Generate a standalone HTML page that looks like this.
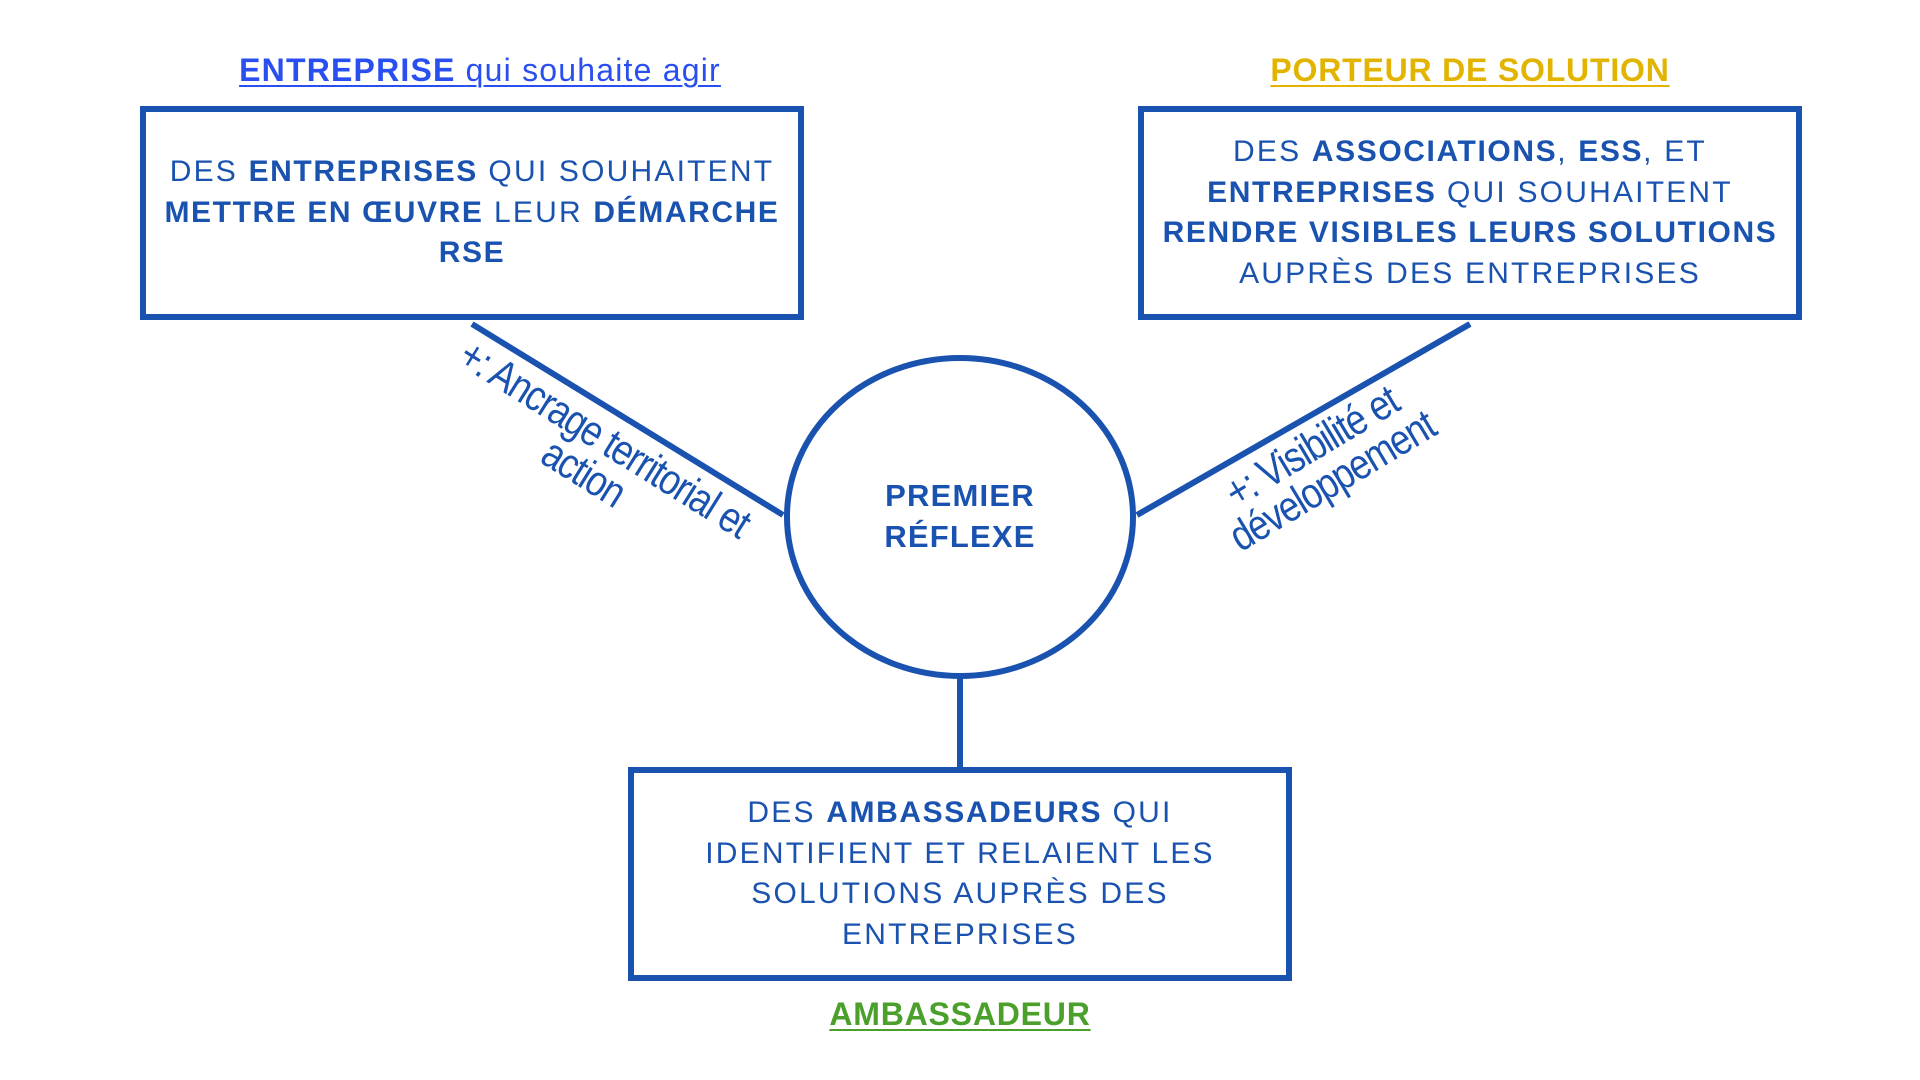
<!DOCTYPE html>
<html><head><meta charset="utf-8"><style>
html,body{margin:0;padding:0;background:#fff;}
body{width:1920px;height:1080px;position:relative;overflow:hidden;font-family:"Liberation Sans",sans-serif;}
.box{position:absolute;border:6px solid #1a52b0;box-sizing:border-box;display:flex;align-items:center;justify-content:center;text-align:center;color:#1a52b0;font-size:30px;line-height:40.5px;letter-spacing:2.2px;white-space:nowrap;}
.box b{font-weight:bold;letter-spacing:1.6px;}
.title{position:absolute;text-align:center;font-size:32px;letter-spacing:1.2px;text-decoration:underline;text-decoration-thickness:2px;text-underline-offset:4px;}
.lbl{position:absolute;left:0;top:0;color:#1a52b0;font-size:43px;line-height:40px;letter-spacing:-1.5px;text-align:center;white-space:nowrap;}
</style></head><body>
<svg width="1920" height="1080" style="position:absolute;left:0;top:0">
<line x1="472" y1="324" x2="783" y2="515" stroke="#1a52b0" stroke-width="6"/>
<line x1="1470" y1="324" x2="1137" y2="515" stroke="#1a52b0" stroke-width="6"/>
<line x1="960" y1="675" x2="960" y2="768" stroke="#1a52b0" stroke-width="6"/>
<ellipse cx="960" cy="517" rx="173" ry="159" fill="none" stroke="#1a52b0" stroke-width="6"/>
</svg>
<div class="title" style="left:180px;width:600px;top:52px;color:#2a4ff0;"><b>ENTREPRISE </b>qui souhaite agir</div>
<div class="title" style="left:1170px;width:600px;top:52px;color:#e2b400;font-weight:bold;letter-spacing:0.8px;">PORTEUR DE SOLUTION</div>
<div class="title" style="left:660px;width:600px;top:996px;color:#4aa02a;font-weight:bold;letter-spacing:0.8px;">AMBASSADEUR</div>
<div class="box" style="left:140px;top:106px;width:664px;height:214px;"><div>DES <b>ENTREPRISES</b> QUI SOUHAITENT<br><b>METTRE EN ŒUVRE</b> LEUR <b>DÉMARCHE</b><br><b>RSE</b></div></div>
<div class="box" style="left:1138px;top:106px;width:664px;height:214px;"><div>DES <b>ASSOCIATIONS</b>, <b>ESS</b>, ET<br><b>ENTREPRISES</b> QUI SOUHAITENT<br><b>RENDRE VISIBLES LEURS SOLUTIONS</b><br>AUPRÈS DES ENTREPRISES</div></div>
<div class="box" style="left:628px;top:767px;width:664px;height:214px;"><div>DES <b>AMBASSADEURS</b> QUI<br>IDENTIFIENT ET RELAIENT LES<br>SOLUTIONS AUPRÈS DES<br>ENTREPRISES</div></div>
<div style="position:absolute;left:810px;width:300px;top:475px;text-align:center;color:#1a52b0;font-weight:bold;font-size:31px;line-height:41px;letter-spacing:1.2px;">PREMIER<br>RÉFLEXE</div>
<div style="position:absolute;left:594px;top:456px;width:0;height:0;">
<div class="lbl" style="transform:translate(-50%,-50%) rotate(32deg) scaleX(0.84);">+: Ancrage territorial et<br>action</div></div>
<div style="position:absolute;left:1322px;top:464px;width:0;height:0;">
<div class="lbl" style="transform:translate(-50%,-50%) rotate(-31deg) scaleX(0.84);">+: Visibilité et<br>développement</div></div>
</body></html>
